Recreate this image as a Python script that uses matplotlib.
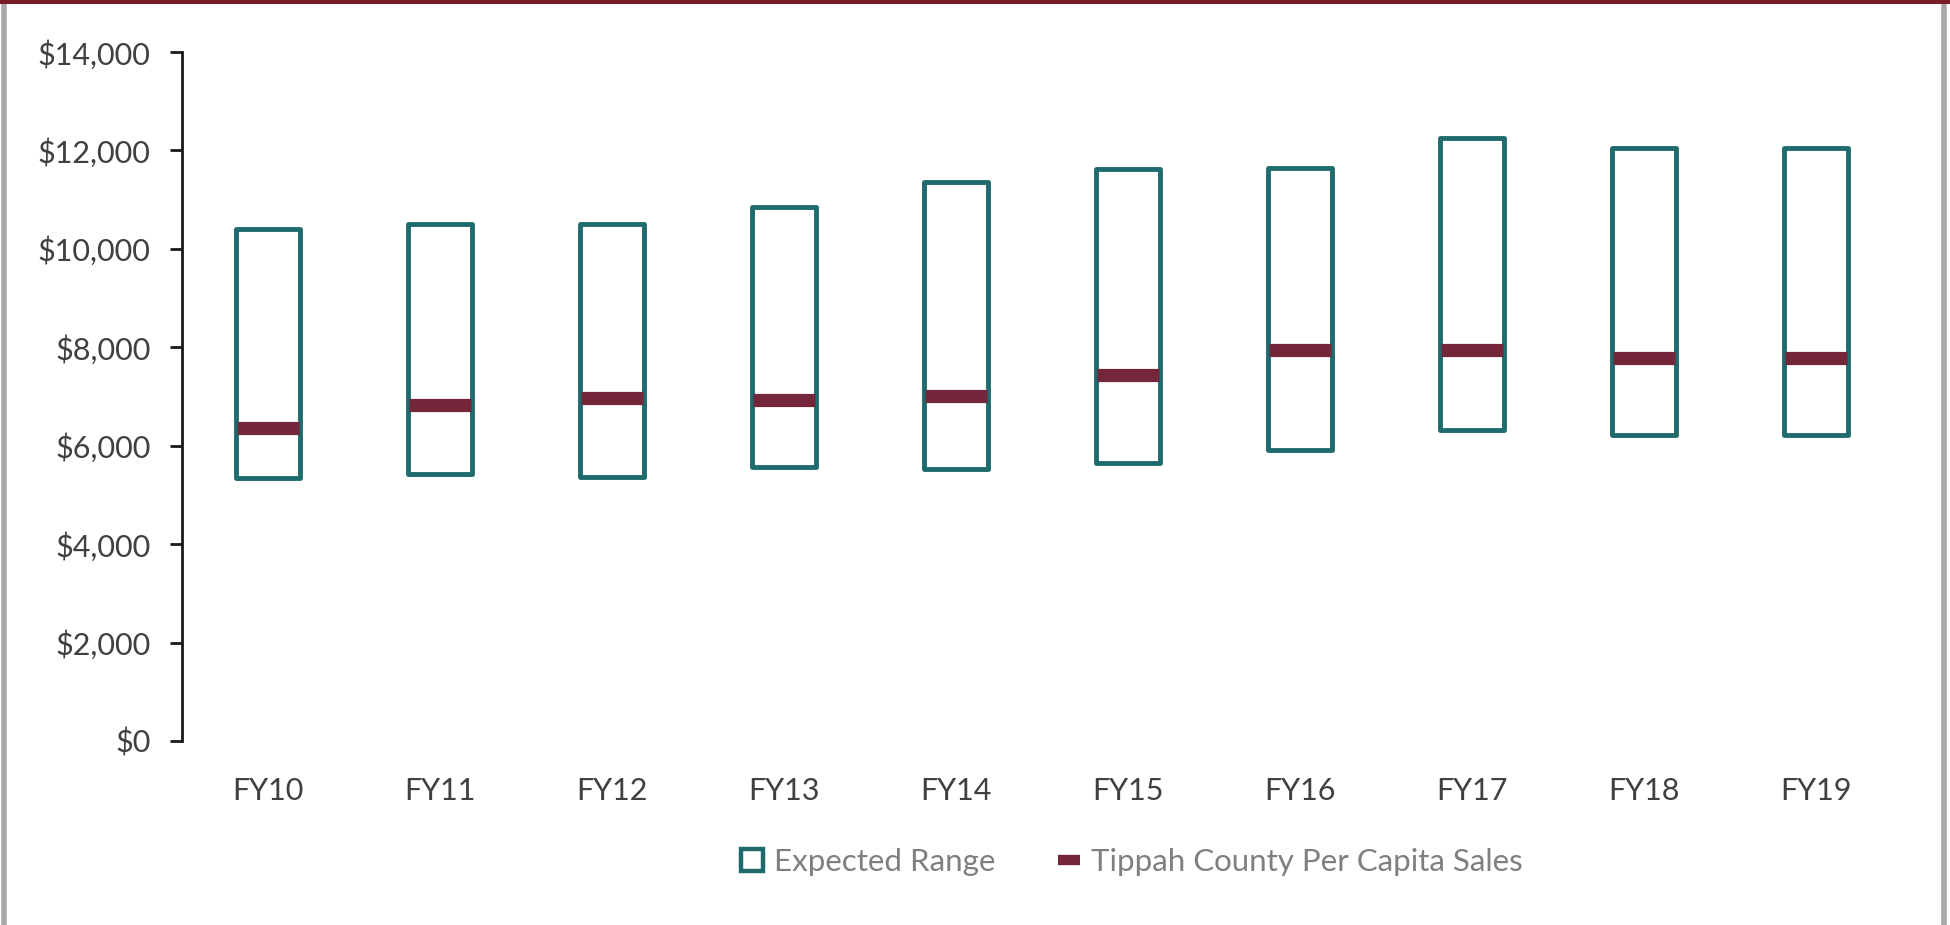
import matplotlib
matplotlib.use("Agg")
import matplotlib.pyplot as plt
from matplotlib.lines import Line2D
from matplotlib.patches import Rectangle
from matplotlib.ticker import FuncFormatter, MultipleLocator

categories = ["FY10", "FY11", "FY12", "FY13", "FY14", "FY15", "FY16", "FY17", "FY18", "FY19"]
range_high = [10400, 10500, 10500, 10850, 11350, 11620, 11650, 12250, 12050, 12050]
range_low = [5340, 5420, 5370, 5570, 5520, 5650, 5920, 6320, 6220, 6220]
per_capita = [6360, 6830, 6960, 6930, 7010, 7440, 7950, 7940, 7790, 7790]

TEAL = "#1e6a6d"
MAROON = "#74263a"
plt.rcParams["font.family"] = ["Lato", "DejaVu Sans"]

fig = plt.figure(figsize=(19.5, 9.25), dpi=100)
fig.patch.set_facecolor("white")

# frame
fig.add_artist(Rectangle((4/1950, -0.01), (1944-4)/1950, 1.02 - 4/925, transform=fig.transFigure,
                         facecolor="none", edgecolor="#a8a8a8", linewidth=4.0, zorder=5))
fig.add_artist(Rectangle((0, 1 - 4/925), 1.0, 4/925, transform=fig.transFigure,
                         facecolor="#7a1c26", edgecolor="none", zorder=6))

ax = fig.add_axes([182/1950, 1 - 741/925, (1902-182)/1950, (741-52)/925])
x = list(range(len(categories)))
heights = [h - l for h, l in zip(range_high, range_low)]
ax.bar(x, heights, bottom=range_low, width=0.37, facecolor="none",
       edgecolor=TEAL, linewidth=3.5, joinstyle="round", zorder=2)
ax.hlines(per_capita, [i - 0.18 for i in x], [i + 0.18 for i in x],
          colors=MAROON, linewidth=9.5, capstyle="butt", zorder=3)

ax.set_xlim(-0.5, len(categories) - 0.5)
ax.set_ylim(0, 14000)
ax.yaxis.set_major_locator(MultipleLocator(2000))
ax.yaxis.set_major_formatter(FuncFormatter(lambda v, p: f"${v:,.0f}"))
ax.set_xticks(x)
ax.set_xticklabels(categories)
for s in ["top", "right", "bottom"]:
    ax.spines[s].set_visible(False)
ax.spines["left"].set_linewidth(2.0)
ax.spines["left"].set_color("#1a1a1a")
ax.tick_params(axis="y", length=8.5, width=2.0, color="#1a1a1a", labelsize=22,
               labelcolor="#404040", pad=14)
ax.tick_params(axis="x", length=0, labelsize=22, labelcolor="#404040", pad=26)

handles = [
    Line2D([], [], linestyle="none", marker="s", markersize=16, markerfacecolor="white",
           markeredgecolor=TEAL, markeredgewidth=3.2),
    Line2D([], [], color=MAROON, linewidth=7.5, solid_capstyle="butt"),
]
fig.legend(handles, ["Expected Range", "Tippah County Per Capita Sales"],
           loc="center", bbox_to_anchor=(1132/1950, 1 - 862/925), ncol=2, frameon=False,
           fontsize=22.5, labelcolor="#7f7f7f", handlelength=0.7, handletextpad=0.35,
           columnspacing=2.0)

fig.savefig("out.png", dpi=100, facecolor="white")
